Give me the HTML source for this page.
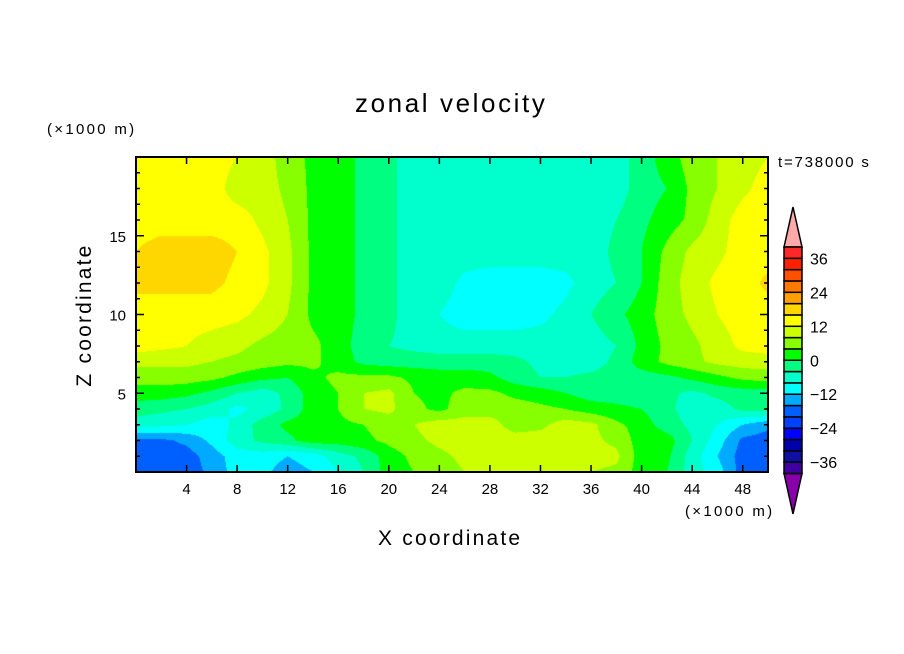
<!DOCTYPE html>
<html><head><meta charset="utf-8">
<style>
body{margin:0;background:#fff;}
#wrap{position:relative;width:904px;height:654px;overflow:hidden;font-family:"Liberation Sans",sans-serif;}
.t{position:absolute;white-space:nowrap;color:#000;}
</style></head><body>
<div id="wrap">
<div class="t" style="left:355px;top:88px;font-size:26px;letter-spacing:2.6px;">zonal velocity</div>
<div class="t" style="left:47px;top:121px;font-size:15px;letter-spacing:2.3px;">(×1000 m)</div>
<div class="t" style="left:778px;top:154px;font-size:15px;letter-spacing:1.8px;">t=738000 s</div>
<div class="t" style="left:685px;top:503px;font-size:15px;letter-spacing:2.3px;">(×1000 m)</div>
<div class="t" style="left:378px;top:527px;font-size:21px;letter-spacing:2.2px;">X coordinate</div>
<div class="t" style="left:85px;top:315px;font-size:21px;letter-spacing:2.2px;transform:translate(-50%,-50%) rotate(-90deg);">Z coordinate</div>
<canvas id="field" width="632" height="315" style="position:absolute;left:136px;top:157px;"></canvas>
<svg id="ov" width="904" height="654" style="position:absolute;left:0;top:0;"></svg>
</div>
<script>
const xs=[0,2,4,6,8,10,12,14,16,18,20,22,24,26,28,30,32,34,36,38,40,42,44,46,48,50];
const zs=[20,18,16,14,12,10,8,7,6,5,4,3,2,1,0];
const vals=[
[14,14,14,14,12,10,6,3,2,-1,-3,-6,-6,-6,-6,-6,-6,-6,-6,-6,-2,2,6,8,10,12],
[14,14,14,14,10,10,7,3,2,-1,-3,-6,-6,-6,-6,-6,-6,-6,-6,-6,-2,0,5,8,11,14],
[14,14,14,14,14,11,8,3,2,-1,-3,-6,-6,-6,-6,-6,-6,-6,-6,-4,-1,2,5,10,14,14],
[16,18,18,18,16,13,9,3,2,-1,-3,-6,-6,-6,-6,-6,-6,-6,-6,-3,0,5,9,11,14,14],
[17,17,17,17,15,13,9,3,2,-1,-3,-6,-6,-9,-10,-10,-10,-9,-6,-4,0,6,10,13,14,17],
[14,14,14,14,13,11,8,3,2,-1,-3,-6,-8,-10,-10,-10,-9,-7,-4,-1,2,6,9,12,14,14],
[14,13,12,10,9,7,6,5,2,-2,-4,-5,-6,-6,-6,-6,-6,-6,-6,-4,1,5,7,10,13,14],
[9,9,9,8,7,6,5,5,2,-1,-2,-2,-2,-2,-2,-3,-5,-6,-6,-3,2,5,7,9,10,10],
[6,6,6,5,3,1,0,3,5,5,5,3,2,2,1,-2,-4,-4,-3,-2,-2,-1,1,3,5,6],
[2,2,1,-1,-4,-6,-3,2,4,8,9,4,3,5,5,3,2,0,-2,-2,-3,-3,-5,-3,-2,-2],
[-2,-3,-4,-6,-9,-7,-3,2,4,8,9,5,3,6,6,6,5,4,2,1,0,-3,-6,-6,-3,-2],
[-6,-7,-8,-10,-7,-2,1,2,3,4,6,8,10,10,10,6,7,10,9,5,2,-2,-5,-8,-12,-15],
[-17,-17,-15,-11,-6,-3,-1,2,2,3,5,7,9,10,10,10,10,10,9,7,2,2,-4,-10,-17,-18],
[-18,-18,-18,-14,-10,-10,-12,-10,-6,-3,2,5,7,9,10,10,10,10,10,9,2,1,-6,-12,-18,-18],
[-18,-18,-18,-15,-10,-11,-14,-12,-8,-4,2,4,6,8,10,10,10,8,8,7,2,0,-6,-10,-18,-18]
];
const levels=[-40,-36,-32,-28,-24,-20,-16,-12,-8,-4,0,4,8,12,16,20,24,28,32,36,40];
const colors=["#4000a0","#1010a0","#0000aa","#0000ff","#0040ff","#0060ff","#00aaff","#00ffff","#00ffcc","#00ff80","#00ff00","#88ff00","#ccff00","#ffff00","#ffd700","#ffa000","#ff7800","#ff5000","#ff2000","#ff2828"];
const tickX=[4,8,12,16,20,24,28,32,36,40,44,48];
const tickZ=[5,10,15];
const cbLabels=[36,24,12,0,-12,-24,-36];

const X0=136,X1=768,Y0=157,Y1=472;
const sx=x=>X0+(x-0)/50*(X1-X0);
const sz=z=>Y1-(z-0)/20*(Y1-Y0);
function hex(c){return [parseInt(c.substr(1,2),16),parseInt(c.substr(3,2),16),parseInt(c.substr(5,2),16)];}
const rgb=colors.map(hex);
function colorIdx(v){let i=Math.floor((v-levels[0])/4);return Math.max(0,Math.min(colors.length-1,i));}
function sample(x,z){
  let i=0;while(i<xs.length-2&&x>xs[i+1])i++;
  let j=0;while(j<zs.length-2&&z<zs[j+1])j++;
  const tx=(x-xs[i])/(xs[i+1]-xs[i]);
  const tz=(z-zs[j])/(zs[j+1]-zs[j]);
  const a=vals[j][i],b=vals[j][i+1],c=vals[j+1][i],d=vals[j+1][i+1];
  return (a*(1-tx)+b*tx)*(1-tz)+(c*(1-tx)+d*tx)*tz;
}
const cv=document.getElementById('field');const ctx=cv.getContext('2d');
const img=ctx.createImageData(cv.width,cv.height);
for(let py=0;py<cv.height;py++){
  const z=20-(py+0.5)/cv.height*20;
  for(let px=0;px<cv.width;px++){
    const x=(px+0.5)/cv.width*50;
    const c=rgb[colorIdx(sample(x,z))];
    const k=(py*cv.width+px)*4;
    img.data[k]=c[0];img.data[k+1]=c[1];img.data[k+2]=c[2];img.data[k+3]=255;
  }
}
ctx.putImageData(img,0,0);

const NS="http://www.w3.org/2000/svg";const svg=document.getElementById('ov');
function mk(tag,attrs,parent){const e=document.createElementNS(NS,tag);for(const k in attrs)e.setAttribute(k,attrs[k]);(parent||svg).appendChild(e);return e;}
const frame=mk('rect',{x:X0,y:Y0,width:X1-X0,height:Y1-Y0,fill:'none',stroke:'#000','stroke-width':2});


for(let x=0;x<=48;x+=4){
  const l1=mk('line',{x1:sx(x),x2:sx(x),y1:Y1,y2:Y1-7,stroke:'#000','stroke-width':1.5});
  
  
  const l2=mk('line',{x1:sx(x),x2:sx(x),y1:Y0,y2:Y0+7,stroke:'#000','stroke-width':1.5});
  
  
}
tickX.forEach(v=>{
  const t=mk('text',{x:sx(v),y:494,'text-anchor':'middle','font-size':15,'font-family':'Liberation Sans, sans-serif'});
  t.textContent=v;
  
  
});
for(let z=1;z<20;z++){
  const len=z%5==0?8:4;
  const l1=mk('line',{x1:X0,x2:X0+len,y1:sz(z),y2:sz(z),stroke:'#000','stroke-width':1.5});
  
  
  const l2=mk('line',{x1:X1,x2:X1-len,y1:sz(z),y2:sz(z),stroke:'#000','stroke-width':1.5});
  
  
}
tickZ.forEach(v=>{
  const t=mk('text',{x:126,y:sz(v)+6,'text-anchor':'end','font-size':15,'font-family':'Liberation Sans, sans-serif'});
  t.textContent=v;
  
  
});
const CB0=784,CB1=802,cbTop=247,cbBot=473.5;
const cy=v=>cbBot-(v-levels[0])/(levels[levels.length-1]-levels[0])*(cbBot-cbTop);
const up=mk('polygon',{points:`${CB0},${cbTop} ${(CB0+CB1)/2},207 ${CB1},${cbTop}`,fill:'#ffaaaa',stroke:'#000','stroke-width':1.5});


const dn=mk('polygon',{points:`${CB0},${cbBot} ${(CB0+CB1)/2},514 ${CB1},${cbBot}`,fill:'#8800aa',stroke:'#000','stroke-width':1.5});


colors.forEach((c,i)=>{
  const r=mk('rect',{x:CB0,y:cy(levels[i+1]),width:CB1-CB0,height:cy(levels[i])-cy(levels[i+1]),fill:c,stroke:'#000','stroke-width':1.5});
  
  
});
cbLabels.forEach(v=>{
  const t=mk('text',{x:810,y:cy(v)+6,'font-size':16,'font-family':'Liberation Sans, sans-serif'});
  t.textContent=v<0?'\u2212'+(-v):v;
  
  
});
</script>
</body></html>
